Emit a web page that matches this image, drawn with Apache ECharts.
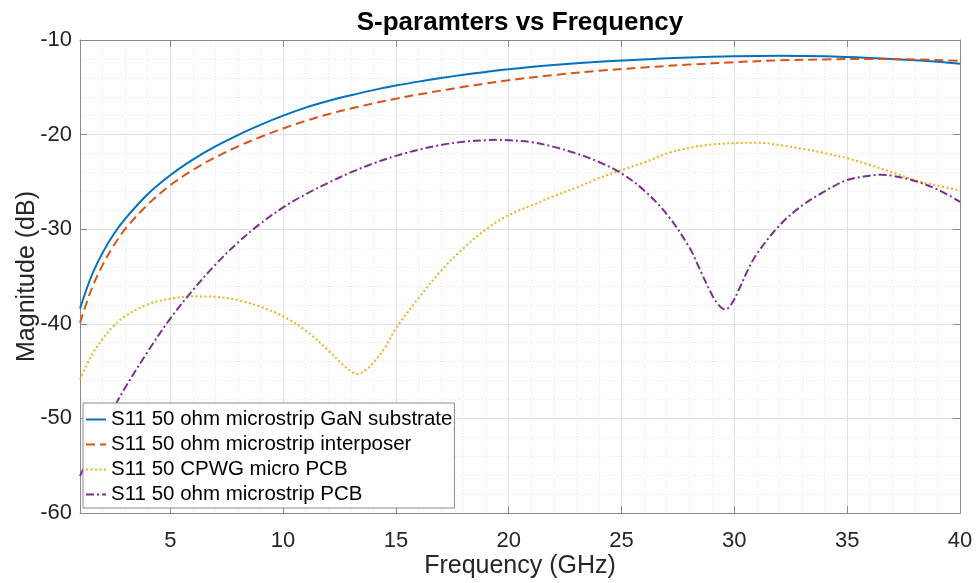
<!DOCTYPE html>
<html>
<head>
<meta charset="utf-8">
<script src="https://cdn.jsdelivr.net/npm/echarts@6/dist/echarts.min.js"></script>
<style>
html, body { margin: 0; padding: 0; background: #fff; }
#chart { width: 976px; height: 583px; }
</style>
</head>
<body>
<div id="chart"></div>
<script>
// S11, frequency in GHz, magnitude in dB
var freqGaN = [1, 1.5, 2, 2.5, 3, 4, 5, 6, 7, 8, 9, 10, 11, 12, 13, 14, 15, 16, 17, 18, 19, 20, 22, 24, 26, 28, 30, 32, 34, 36, 38, 40];
var magGaN = [-38.4, -35.0, -32.5, -30.5, -28.9, -26.3, -24.3, -22.65, -21.25, -20.05, -18.98, -18.0, -17.15, -16.45, -15.85, -15.3, -14.82, -14.4, -14.02, -13.68, -13.38, -13.1, -12.65, -12.3, -12.05, -11.85, -11.72, -11.66, -11.72, -11.9, -12.15, -12.5];

var freqInt = [1, 1.5, 2, 2.5, 3, 4, 5, 6, 7, 8, 9, 10, 11, 12, 13, 14, 15, 16, 17, 18, 19, 20, 22, 24, 26, 28, 30, 32, 34, 36, 38, 40];
var magInt = [-39.9, -36.4, -33.8, -31.7, -30.0, -27.4, -25.35, -23.75, -22.4, -21.25, -20.25, -19.35, -18.55, -17.85, -17.25, -16.7, -16.2, -15.75, -15.35, -14.95, -14.6, -14.25, -13.7, -13.25, -12.9, -12.6, -12.35, -12.15, -12.05, -12.0, -12.05, -12.2];

var freqCpwg = [1, 1.5, 2, 2.5, 3, 4, 5, 6, 7, 8, 9, 10, 11, 12, 12.5, 13, 13.3, 13.6, 14, 14.5, 15, 16, 17, 18, 19, 20, 21, 22, 23, 24, 25, 26, 27, 28, 29, 30, 31, 32, 33, 34, 35, 36, 37, 38, 39, 40];
var magCpwg = [-45.9, -43.4, -41.6, -40.2, -39.2, -37.95, -37.35, -37.1, -37.15, -37.5, -38.2, -39.2, -40.7, -42.8, -44.0, -45.0, -45.3, -45.0, -44.1, -42.6, -40.5, -37.3, -34.4, -32.0, -30.0, -28.5, -27.5, -26.5, -25.6, -24.6, -23.75, -22.95, -22.0, -21.4, -21.05, -20.9, -20.85, -21.1, -21.5, -21.95, -22.5, -23.2, -24.0, -24.8, -25.4, -25.9];

var freqPcb = [1, 1.5, 2, 2.5, 3, 4, 5, 6, 7, 8, 9, 10, 11, 12, 13, 14, 15, 16, 17, 18, 19, 19.5, 20, 21, 22, 23, 24, 25, 26, 27, 28, 28.5, 29, 29.3, 29.6, 29.9, 30.2, 30.6, 31, 32, 33, 34, 35, 36, 36.5, 37, 38, 39, 40];
var magPcb = [-56.1, -53.5, -51.1, -48.85, -46.75, -42.95, -39.45, -36.45, -33.75, -31.4, -29.4, -27.7, -26.3, -25.1, -24.0, -23.05, -22.25, -21.6, -21.1, -20.75, -20.6, -20.55, -20.6, -20.8, -21.3, -22.0, -22.9, -24.1, -25.9, -28.4, -31.9, -34.4, -36.9, -38.0, -38.5, -37.8, -36.4, -34.3, -32.6, -29.6, -27.5, -26.0, -24.8, -24.35, -24.25, -24.35, -24.9, -25.8, -27.1];

var seriesNames = ['S11 50 ohm microstrip GaN substrate', 'S11 50 ohm microstrip interposer', 'S11 50 CPWG micro PCB', 'S11 50 ohm microstrip PCB'];
var xTicks = [5, 10, 15, 20, 25, 30, 35, 40];

var font = '"Liberation Sans", Arial, Helvetica, sans-serif';
var axisGray = '#8a8a8a';

function pairs(xs, ys) {
	return xs.map(function (x, i) { return [x, ys[i]]; });
}

function makeLine(name, xs, ys, color, type) {
	return {
		name: name,
		type: 'line',
		data: pairs(xs, ys),
		xAxisIndex: 0,
		yAxisIndex: 0,
		smooth: 0.35,
		symbol: 'none',
		lineStyle: { color: color, width: 2, type: type },
		itemStyle: { color: color },
		emphasis: { disabled: true },
		z: 5
	};
}

var myChart = echarts.init(document.getElementById('chart'), null, { renderer: 'canvas' });

var option = {
	animation: false,
	backgroundColor: '#fff',
	textStyle: { fontFamily: font },
	title: {
		text: 'S-paramters vs Frequency',
		left: 520,
		top: 10,
		padding: 0,
		textAlign: 'center',
		textStyle: { fontFamily: font, fontSize: 26, fontWeight: 'bold', color: '#000' }
	},
	grid: { left: 80, right: 16, top: 40, bottom: 70, containLabel: false, outerBoundsMode: 'none' },
	legend: {
		orient: 'vertical',
		left: 83,
		top: 403,
		padding: [6, 2, 3, 2],
		itemWidth: 20,
		itemHeight: 18,
		itemGap: 4,
		itemTextGap: 2,
		selectedMode: false,
		backgroundColor: '#fff',
		borderColor: axisGray,
		borderWidth: 1,
		borderRadius: 0,
		itemStyle: { opacity: 0 },
		textStyle: { fontFamily: font, fontSize: 20.5, color: '#000' },
		data: seriesNames,
		z: 20
	},
	xAxis: [{
		type: 'value',
		position: 'bottom',
		min: 1,
		max: 40,
		name: 'Frequency (GHz)',
		nameLocation: 'middle',
		nameGap: 41,
		nameMoveOverlap: false,
		nameTextStyle: { fontFamily: font, fontSize: 25, color: '#262626' },
		axisLine: { show: true, onZero: false, lineStyle: { color: axisGray, width: 1 } },
		axisTick: { show: true, inside: true, length: 7, customValues: xTicks, lineStyle: { color: axisGray } },
		axisLabel: { customValues: xTicks, margin: 17, fontFamily: font, fontSize: 22, color: '#262626' },
		splitLine: { show: true, lineStyle: { color: '#dfdfdf', width: 1 } }
	}, {
		type: 'value',
		position: 'top',
		min: 1,
		max: 40,
		axisLine: { show: true, onZero: false, lineStyle: { color: axisGray, width: 1 } },
		axisTick: { show: true, inside: true, length: 7, customValues: xTicks, lineStyle: { color: axisGray } },
		axisLabel: { show: false, customValues: xTicks },
		splitLine: { show: false }
	}, {
		// minor grid, every 1 GHz
		type: 'value',
		position: 'bottom',
		min: 1,
		max: 40,
		interval: 1,
		axisLine: { show: false },
		axisTick: { show: false },
		axisLabel: { show: false },
		splitLine: { show: true, lineStyle: { color: '#e6e6e6', width: 1, type: [1, 2] } },
		z: 0
	}],
	yAxis: [{
		type: 'value',
		position: 'left',
		min: -60,
		max: -10,
		interval: 10,
		name: 'Magnitude (dB)',
		nameLocation: 'middle',
		nameGap: 40,
		nameMoveOverlap: false,
		nameTextStyle: { fontFamily: font, fontSize: 25, color: '#262626' },
		axisLine: { show: true, onZero: false, lineStyle: { color: axisGray, width: 1 } },
		axisTick: { show: true, inside: true, length: 7, lineStyle: { color: axisGray } },
		axisLabel: { margin: 8, fontFamily: font, fontSize: 22, color: '#262626' },
		splitLine: { show: true, lineStyle: { color: '#dfdfdf', width: 1 } }
	}, {
		type: 'value',
		position: 'right',
		min: -60,
		max: -10,
		interval: 10,
		axisLine: { show: true, onZero: false, lineStyle: { color: axisGray, width: 1 } },
		axisTick: { show: true, inside: true, length: 7, lineStyle: { color: axisGray } },
		axisLabel: { show: false },
		splitLine: { show: false }
	}, {
		// minor grid, every 2 dB
		type: 'value',
		position: 'left',
		min: -60,
		max: -10,
		interval: 2,
		axisLine: { show: false },
		axisTick: { show: false },
		axisLabel: { show: false },
		splitLine: { show: true, lineStyle: { color: '#e6e6e6', width: 1, type: [1, 2] } },
		z: 0
	}],
	series: [
		makeLine(seriesNames[0], freqGaN, magGaN, '#0072BD', 'solid'),
		makeLine(seriesNames[1], freqInt, magInt, '#D95319', [9, 5]),
		makeLine(seriesNames[2], freqCpwg, magCpwg, '#EDB120', [2, 2.5]),
		makeLine(seriesNames[3], freqPcb, magPcb, '#7E2F8E', [8, 3, 2, 3])
	]
};
myChart.setOption(option);
</script>
</body>
</html>
